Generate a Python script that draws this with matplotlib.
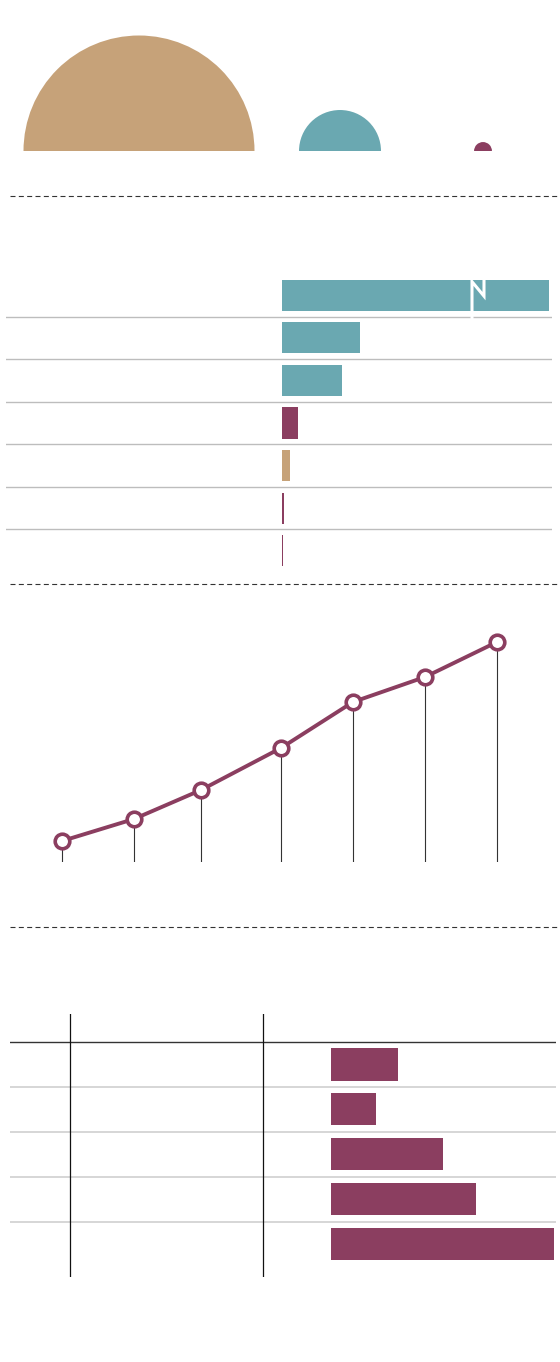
import numpy as np
import matplotlib
matplotlib.use("Agg")
import matplotlib.pyplot as plt
from matplotlib.patches import Wedge
from matplotlib.lines import Line2D

# colours
TAN = "#c6a279"
TEAL = "#6aa8b1"
PLUM = "#8b3e60"

# --- data -------------------------------------------------------------
# top: three semicircles, value ~ area
circle_values = [13340, 1680, 80]
circle_colors = [TAN, TEAL, PLUM]

# middle: horizontal bars (first bar is broken / capped)
bar_values = [520, 78, 60, 15.5, 8.4, 1.5, 1.2]
bar_colors = [TEAL, TEAL, TEAL, PLUM, TAN, PLUM, PLUM]
bar_cap = 267

# line chart
line_x = [0, 72, 139, 219, 291, 363, 435]
line_y = [21, 43, 72, 114, 160, 185, 220]

# bottom table bars
table_values = [67, 44.7, 111.5, 145, 223.3]

W, H = 560, 1362
fig = plt.figure(figsize=(W / 100, H / 100), dpi=100)


def px_axes(x0, y0, x1, y1):
    ax = fig.add_axes([x0 / W, 1 - y1 / H, (x1 - x0) / W, (y1 - y0) / H])
    ax.set_axis_off()
    return ax


def dashed_rule(y):
    fig.add_artist(Line2D([10 / W, 1], [1 - y / H, 1 - y / H],
                          transform=fig.transFigure, color="#333333",
                          lw=0.8, linestyle=(0, (4.5, 3))))


# --- semicircles ------------------------------------------------------
ax1 = px_axes(0, 20, 560, 160)
ax1.set_xlim(0, 560)
ax1.set_ylim(-9, 131)
centers = [139, 340, 483]
for cx, v, c in zip(centers, circle_values, circle_colors):
    ax1.add_patch(Wedge((cx, 0), np.sqrt(v), 0, 180, color=c, lw=0))

dashed_rule(196)

# --- bars -------------------------------------------------------------
ax2 = px_axes(6, 274, 552, 572)
ax2.set_xlim(-276, 270)
ax2.set_ylim(6.5, -0.5)
n = len(bar_values)
shown = [min(v, bar_cap) for v in bar_values]
ax2.barh(range(n), shown, height=0.73, color=bar_colors, zorder=2)
for i in range(n - 1):
    ax2.axhline(i + 0.5, color="#bdbdbd", lw=1.0, zorder=1)
for i, v in enumerate(bar_values):
    if v > bar_cap:
        ax2.plot([190, 190, 202, 202], [i + 0.55, i - 0.32, i + 0.02, i - 0.42],
                 color="white", lw=2.2, zorder=3, solid_joinstyle="miter")

dashed_rule(584)

# --- line chart -------------------------------------------------------
ax3 = px_axes(20, 610, 540, 862)
ax3.set_xlim(-42, 478)
ax3.set_ylim(0, 252)
ax3.vlines(line_x, 0, line_y, color="#333333", lw=0.8, zorder=1)
ax3.plot(line_x, line_y, color=PLUM, lw=2.8, marker="o", markersize=10.5,
         markerfacecolor="white", markeredgecolor=PLUM, markeredgewidth=2.6,
         zorder=3, clip_on=False)

dashed_rule(927)

# --- bottom table -----------------------------------------------------
ax4 = px_axes(10, 1014, 556, 1277)
ax4.set_xlim(-321, 225)
ax4.set_ylim(4.73, -1.12)
m = len(table_values)
ax4.barh(range(m), table_values, height=0.72, color=PLUM, zorder=2)
ax4.axhline(-0.5, color="#333333", lw=1.0, zorder=3)
for i in range(m - 1):
    ax4.axhline(i + 0.5, color="#d0d0d0", lw=1.2, zorder=1)
for xv in (-260.6, -67.8):
    ax4.axvline(xv, color="#111111", lw=0.9, zorder=3)

fig.savefig("out.png", dpi=100)
